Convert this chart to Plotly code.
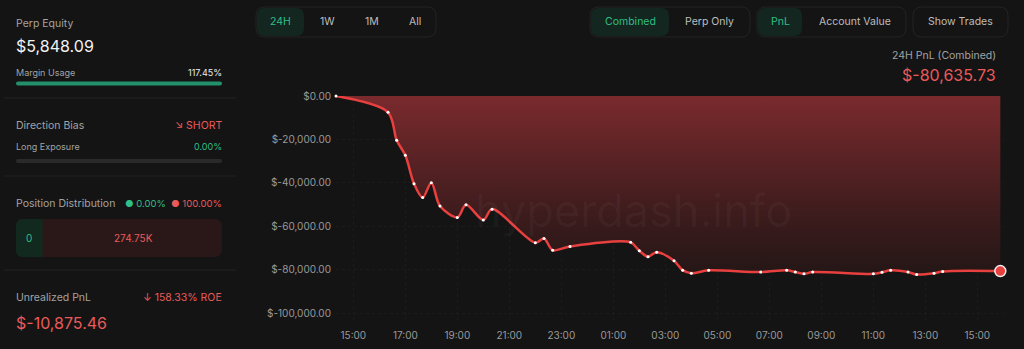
import plotly.graph_objects as go

# ---------------- data ----------------
times = [
    "2024-05-01 14:20", "2024-05-01 16:20", "2024-05-01 16:40", "2024-05-01 17:00",
    "2024-05-01 17:20", "2024-05-01 17:40", "2024-05-01 18:00", "2024-05-01 18:20",
    "2024-05-01 19:00", "2024-05-01 19:20", "2024-05-01 20:00", "2024-05-01 20:20",
    "2024-05-01 22:00", "2024-05-01 22:20", "2024-05-01 22:40", "2024-05-01 23:20",
    "2024-05-02 01:40", "2024-05-02 02:00", "2024-05-02 02:20", "2024-05-02 02:40",
    "2024-05-02 03:20", "2024-05-02 03:40", "2024-05-02 04:00", "2024-05-02 04:40",
    "2024-05-02 06:40", "2024-05-02 07:40", "2024-05-02 08:00", "2024-05-02 08:20",
    "2024-05-02 08:40", "2024-05-02 11:00", "2024-05-02 11:20", "2024-05-02 11:40",
    "2024-05-02 12:20", "2024-05-02 12:40", "2024-05-02 13:20", "2024-05-02 13:40",
    "2024-05-02 15:53",
]
pnl = [
    0, -7500, -20400, -27300,
    -40400, -46800, -39900, -50700,
    -55900, -50100, -57100, -52100,
    -67600, -65600, -71000, -69300,
    -67400, -71300, -74000, -71900,
    -75900, -80200, -81600, -80300,
    -81100, -80300, -81100, -81900,
    -81100, -81900, -81200, -80300,
    -81100, -82200, -81600, -80800,
    -80635.73,
]
y_ticks = [0, -20000, -40000, -60000, -80000, -100000]
y_tick_labels = ["$0.00", "$-20,000.00", "$-40,000.00", "$-60,000.00", "$-80,000.00", "$-100,000.00"]
x_ticks = ["2024-05-01 %02d:00" % h for h in (15, 17, 19, 21, 23)] + \
          ["2024-05-02 %02d:00" % h for h in (1, 3, 5, 7, 9, 11, 13, 15)]

# ---------------- layout geometry ----------------
W, H = 1024, 349
L, R, T, B = 336, 20, 96, 25
PW, PH = W - L - R, H - T - B

def px(x):
    return (x - L) / PW

def py(y):
    return 1 - (y - T) / PH

BG = "#141414"
GRAY = "#a3a3a3"
WHITE = "#ececec"
GREEN = "#2fbf87"
RED = "#e95a5a"
BORDER = "#232323"

fig = go.Figure()

fig.add_trace(go.Scatter(
    x=times, y=pnl, mode="lines+markers",
    line=dict(color="#e8403f", width=2.5, shape="spline", smoothing=0.9),
    marker=dict(size=3, color="white"),
    fill="tozeroy",
    fillgradient=dict(type="vertical",
                      colorscale=[[0, "rgb(36,22,22)"], [0.35, "rgb(62,28,29)"], [1, "rgb(122,42,45)"]]),
    cliponaxis=False, hoverinfo="skip", showlegend=False,
))
fig.add_trace(go.Scatter(
    x=[times[-1]], y=[pnl[-1]], mode="markers",
    marker=dict(size=11, color="#e8403f", line=dict(color="#f0f0f0", width=1.5)),
    cliponaxis=False, hoverinfo="skip", showlegend=False,
))

shapes = []
annotations = []

def text(x, y, s, size=11, color=GRAY, anchor="left", family="Inter"):
    if anchor == "left":
        x -= 1
    elif anchor == "right":
        x += 1
    annotations.append(dict(
        x=px(x), y=py(y), xref="paper", yref="paper", text=s, showarrow=False,
        xanchor=anchor, yanchor="middle", borderpad=0,
        font=dict(size=size, color=color, family=family),
    ))

def rrect(x0, y0, x1, y1, r, fill, line=None, lw=1):
    def P(x, y):
        return "%.5f,%.5f" % (px(x), py(y))
    d = ("M " + P(x0 + r, y0) + " L " + P(x1 - r, y0) + " Q " + P(x1, y0) + " " + P(x1, y0 + r) +
         " L " + P(x1, y1 - r) + " Q " + P(x1, y1) + " " + P(x1 - r, y1) +
         " L " + P(x0 + r, y1) + " Q " + P(x0, y1) + " " + P(x0, y1 - r) +
         " L " + P(x0, y0 + r) + " Q " + P(x0, y0) + " " + P(x0 + r, y0) + " Z")
    shapes.append(dict(type="path", path=d, xref="paper", yref="paper",
                       fillcolor=fill, line=dict(color=line or fill, width=lw if line else 0),
                       layer="below"))

def hline(x0, x1, y, color=BORDER, w=1):
    shapes.append(dict(type="line", xref="paper", yref="paper", x0=px(x0), x1=px(x1),
                       y0=py(y), y1=py(y), line=dict(color=color, width=w), layer="below"))

# ---------------- left panel ----------------
text(16, 24, "Perp Equity", 10.5, GRAY)
text(16, 46, "$5,848.09", 16, "#f2f2f2")
text(16, 72, "Margin Usage", 9, GRAY)
text(222, 72, "117.45%", 9, WHITE, "right")
rrect(16, 81.5, 222, 85.5, 2, "#22906a")
hline(4, 236, 98)

text(16, 125, "Direction Bias", 10.5, GRAY)
text(222, 125, "↘ SHORT", 10.5, RED, "right")
text(16, 146, "Long Exposure", 9, GRAY)
text(222, 146, "0.00%", 9, GREEN, "right")
rrect(16, 159, 222, 163, 2, "#2a2a2a")
hline(4, 236, 176)

text(16, 203, "Position Distribution", 10.5, GRAY)
text(125, 203, "● 0.00%", 9.5, GREEN, "left")
text(222, 203, "● 100.00%", 9.5, RED, "right")
rrect(16, 219, 222, 257, 8, "#2a1818")
shapes.append(dict(type="rect", xref="paper", yref="paper", x0=px(20), x1=px(42.5), y0=py(219), y1=py(257),
                   fillcolor="#12291f", line=dict(width=0), layer="below"))
rrect(16, 219, 30, 257, 7, "#12291f")
text(29, 238, "0", 10, GREEN, "center")
text(133, 238, "274.75K", 10, RED, "center")
hline(4, 236, 270)

text(16, 297, "Unrealized PnL", 10.5, GRAY)
text(222, 297, "↓ 158.33% ROE", 10.5, RED, "right")
text(16, 323, "$-10,875.46", 16, RED)

# ---------------- top buttons ----------------
BY0, BY1 = 7, 37
rrect(256, BY0, 436, BY1, 9, BG, BORDER)
rrect(257, BY0 + 1, 304, BY1 - 1, 8, "#13261f")
text(280, 21, "24H", 10.5, GREEN, "center")
text(327, 21, "1W", 10.5, "#bdbdbd", "center")
text(372, 21, "1M", 10.5, "#bdbdbd", "center")
text(415, 21, "All", 10.5, "#bdbdbd", "center")

rrect(590, BY0, 750, BY1, 9, BG, BORDER)
rrect(591, BY0 + 1, 669, BY1 - 1, 8, "#13261f")
text(630, 21, "Combined", 10.5, GREEN, "center")
text(709, 21, "Perp Only", 10.5, "#bdbdbd", "center")

rrect(757, BY0, 906, BY1, 9, BG, BORDER)
rrect(758, BY0 + 1, 802, BY1 - 1, 8, "#13261f")
text(780, 21, "PnL", 10.5, GREEN, "center")
text(855, 21, "Account Value", 10.5, "#bdbdbd", "center")

rrect(913, BY0, 1008, BY1, 9, BG, BORDER)
text(960, 21, "Show Trades", 10.5, "#bdbdbd", "center")

# ---------------- chart header ----------------
text(996, 55, "24H PnL (Combined)", 10.5, GRAY, "right")
text(996, 75, "$-80,635.73", 16, RED, "right")

# watermark
text(633, 210, "hyperdash.info", 45, "rgba(255,255,255,0.035)", "center")

fig.update_layout(
    width=W, height=H, margin=dict(l=L, r=R, t=T, b=B, autoexpand=False),
    paper_bgcolor=BG, plot_bgcolor=BG,
    font=dict(family="Inter", color=GRAY, size=10),
    shapes=shapes, annotations=annotations,
    xaxis=dict(
        type="date", range=["2024-05-01 14:20", "2024-05-02 16:01:30"], automargin=False,
        tickvals=x_ticks, tickformat="%H:%M", ticks="", showline=False, zeroline=False,
        showgrid=True, gridcolor="rgba(255,255,255,0.03)", griddash="dot", gridwidth=1,
        tickfont=dict(size=10, color="#9a9a9a", family="Inter"), ticklabelstandoff=4,
    ),
    yaxis=dict(
        range=[-105000, 0], tickvals=y_ticks, ticktext=y_tick_labels, ticks="", automargin=False,
        showline=False, zeroline=False, showgrid=True, gridcolor="rgba(255,255,255,0.03)",
        griddash="dot", tickfont=dict(size=10, color="#9a9a9a", family="Inter"),
        ticklabelstandoff=4,
    ),
    hovermode=False,
)

fig.write_html("out.html")
